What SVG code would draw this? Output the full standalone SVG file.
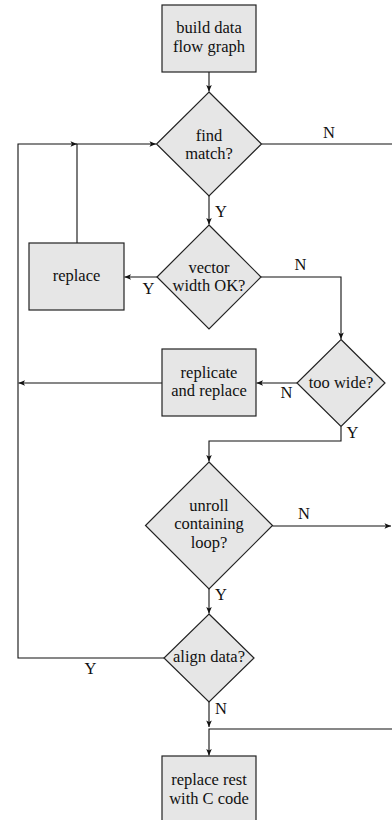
<svg xmlns="http://www.w3.org/2000/svg" width="392" height="820" viewBox="0 0 392 820">
<style>
.n{fill:#e6e6e6;stroke:#222;stroke-width:1.2}
.t{font-family:"Liberation Serif","Times New Roman",serif;font-size:16.5px;fill:#111;text-anchor:middle}
.c{fill:none;stroke:#111;stroke-width:1.1}
</style>
<defs>
<marker id="a" viewBox="-7 -3 8 6" markerWidth="8" markerHeight="6" refX="0" refY="0" orient="auto" markerUnits="userSpaceOnUse">
<path d="M0,0 L-6.5,-2.8 L-5,0 L-6.5,2.8 Z" fill="#111"/>
</marker>
</defs>
<rect width="392" height="820" fill="#fff"/>
<g id="connectors">
<path class="c" d="M209,72 V91.5" marker-end="url(#a)"/>
<path class="c" d="M261.5,144 H392"/>
<path class="c" d="M209,196 V224.5" marker-end="url(#a)"/>
<path class="c" d="M157,277 H124.5" marker-end="url(#a)"/>
<path class="c" d="M77,243 V144 H156" marker-end="url(#a)"/>
<path class="c" d="M261,277 H341 V339" marker-end="url(#a)"/>
<path class="c" d="M297,383 H256.5" marker-end="url(#a)"/>
<path class="c" d="M162,383 H18.5" marker-end="url(#a)"/>
<path class="c" d="M341,426.5 V441 H209 V461.5" marker-end="url(#a)"/>
<path class="c" d="M272.5,526 H391" marker-end="url(#a)"/>
<path class="c" d="M209,589 V613.5" marker-end="url(#a)"/>
<path class="c" d="M164,658 H18 V144 H77" marker-end="url(#a)"/>
<path class="c" d="M209,702 V727" marker-end="url(#a)"/>
<path class="c" d="M392,729 H209 V755.5" marker-end="url(#a)"/>
</g>
<g id="labels" class="t">
<text x="329" y="138">N</text>
<text x="221" y="217">Y</text>
<text x="148.5" y="294">Y</text>
<text x="300.5" y="270">N</text>
<text x="286.5" y="398">N</text>
<text x="352.5" y="438">Y</text>
<text x="304" y="519">N</text>
<text x="221" y="600">Y</text>
<text x="90.5" y="674">Y</text>
<text x="221" y="714">N</text>
</g>
<g id="build">
<rect class="n" x="162" y="5" width="94" height="67"/>
<text class="t" x="209" y="33">build data</text>
<text class="t" x="209" y="52">flow graph</text>
</g>
<g id="find">
<polygon class="n" points="209,92 261.5,144 209,196 156.5,144"/>
<text class="t" x="209" y="140.5">find</text>
<text class="t" x="209" y="159">match?</text>
</g>
<g id="vector">
<polygon class="n" points="209,225 261,277 209,329 157,277"/>
<text class="t" x="209" y="272.5">vector</text>
<text class="t" x="209" y="291">width OK?</text>
</g>
<g id="replace">
<rect class="n" x="29" y="243" width="95" height="67"/>
<text class="t" x="76.5" y="281">replace</text>
</g>
<g id="toowide">
<polygon class="n" points="341,339.5 385,383 341,426.5 297,383"/>
<text class="t" x="341" y="388">too wide?</text>
</g>
<g id="replicate">
<rect class="n" x="162" y="349" width="94" height="67"/>
<text class="t" x="209" y="377.5">replicate</text>
<text class="t" x="209" y="396">and replace</text>
</g>
<g id="unroll">
<polygon class="n" points="209,462 272.5,525.5 209,589 145.5,525.5"/>
<text class="t" x="209" y="510.5">unroll</text>
<text class="t" x="209" y="529">containing</text>
<text class="t" x="209" y="548">loop?</text>
</g>
<g id="align">
<polygon class="n" points="209,614 254,658 209,702 164,658"/>
<text class="t" x="209" y="662">align data?</text>
</g>
<g id="rest">
<rect class="n" x="162" y="756" width="94" height="70"/>
<text class="t" x="209" y="785">replace rest</text>
<text class="t" x="209" y="803.5">with C code</text>
</g>
</svg>
